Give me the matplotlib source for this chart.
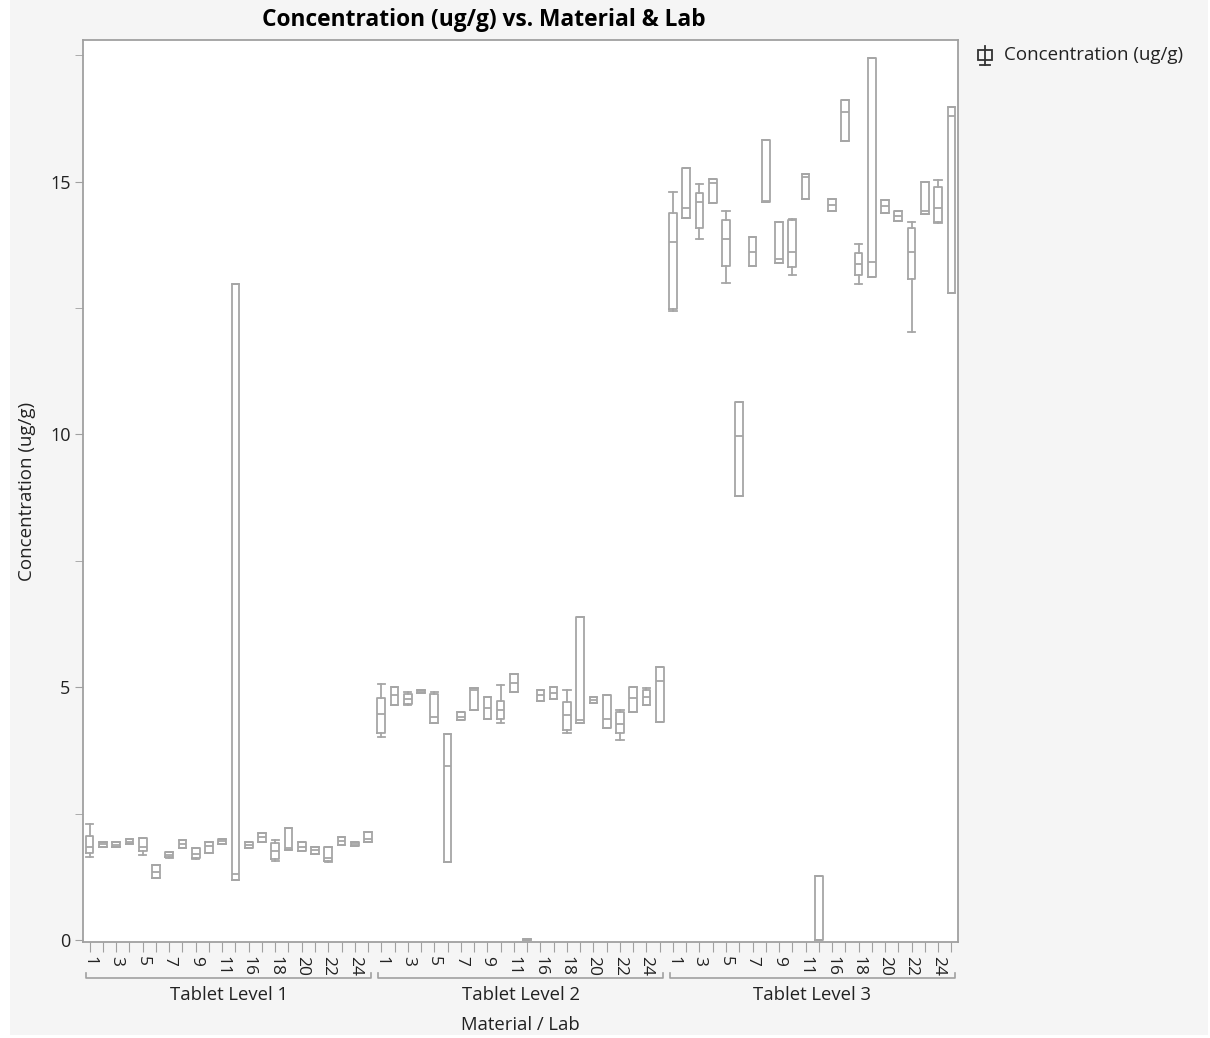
import numpy as np
import matplotlib.pyplot as plt
from matplotlib.patches import Rectangle
from matplotlib.lines import Line2D

# Labs in each material group (the one between 11 and 16 is unlabeled on the axis)
labs = [1, 2, 3, 4, 5, 6, 7, 8, 9, 10, 11, 12, 16, 17, 18, 19, 20, 21, 22, 23, 24, 25]
groups = ["Tablet Level 1", "Tablet Level 2", "Tablet Level 3"]

# Box statistics, one value per lab
lvl1_whislo = [1.65, 1.84, 1.83, 1.90, 1.69, 1.23, 1.63, 1.81, 1.61, 1.73, 1.89, 1.19,
               1.81, 1.94, 1.57, 1.78, 1.75, 1.71, 1.55, 1.88, 1.86, 1.93]
lvl1_q1 = [1.72, 1.84, 1.84, 1.90, 1.75, 1.23, 1.64, 1.81, 1.62, 1.73, 1.89, 1.19,
           1.81, 1.94, 1.60, 1.78, 1.75, 1.71, 1.57, 1.88, 1.86, 1.93]
lvl1_med = [1.83, 1.89, 1.88, 1.93, 1.84, 1.35, 1.68, 1.89, 1.70, 1.85, 1.95, 1.31,
            1.87, 2.03, 1.75, 1.81, 1.84, 1.78, 1.62, 1.95, 1.90, 2.00]
lvl1_q3 = [2.06, 1.94, 1.93, 2.00, 2.01, 1.48, 1.74, 1.98, 1.82, 1.93, 2.00, 12.98,
           1.94, 2.11, 1.91, 2.22, 1.93, 1.84, 1.84, 2.04, 1.94, 2.14]
lvl1_whishi = [2.29, 1.94, 1.93, 2.00, 2.01, 1.48, 1.74, 1.98, 1.82, 1.93, 2.00, 12.98,
               1.94, 2.11, 1.98, 2.22, 1.93, 1.84, 1.84, 2.04, 1.94, 2.14]

lvl2_whislo = [4.01, 4.65, 4.64, 4.88, 4.30, 1.55, 4.35, 4.55, 4.38, 4.30, 4.90, 0.00,
               4.73, 4.76, 4.10, 4.30, 4.68, 4.20, 3.95, 4.51, 4.64, 4.32]
lvl2_q1 = [4.10, 4.65, 4.66, 4.88, 4.30, 1.55, 4.35, 4.55, 4.38, 4.38, 4.90, 0.00,
           4.73, 4.76, 4.15, 4.30, 4.68, 4.20, 4.10, 4.51, 4.65, 4.32]
lvl2_med = [4.47, 4.84, 4.76, 4.91, 4.41, 3.44, 4.42, 4.95, 4.58, 4.55, 5.09, 0.01,
            4.84, 4.88, 4.45, 4.36, 4.75, 4.38, 4.28, 4.78, 4.80, 5.13]
lvl2_q3 = [4.78, 5.00, 4.86, 4.94, 4.86, 4.07, 4.50, 4.98, 4.80, 4.72, 5.27, 0.02,
           4.94, 5.00, 4.71, 6.38, 4.81, 4.84, 4.50, 5.00, 4.94, 5.39]
lvl2_whishi = [5.07, 5.00, 4.91, 4.94, 4.91, 4.07, 4.50, 4.98, 4.80, 5.04, 5.27, 0.02,
               4.94, 5.00, 4.94, 6.38, 4.81, 4.84, 4.55, 5.00, 4.99, 5.39]

lvl3_whislo = [12.44, 14.28, 13.87, 14.57, 13.00, 8.78, 13.34, 14.59, 13.39, 13.16, 14.66, 0.00,
               14.41, 15.81, 12.98, 13.11, 14.38, 14.22, 12.02, 14.35, 14.18, 12.79]
lvl3_q1 = [12.48, 14.28, 14.08, 14.57, 13.34, 8.78, 13.34, 14.59, 13.39, 13.32, 14.66, 0.00,
           14.41, 15.81, 13.16, 13.11, 14.38, 14.22, 13.07, 14.35, 14.20, 12.79]
lvl3_med = [13.80, 14.48, 14.59, 14.98, 13.87, 9.96, 13.60, 14.62, 13.47, 13.60, 15.10, 0.00,
            14.54, 16.37, 13.36, 13.40, 14.51, 14.31, 13.60, 14.41, 14.48, 16.30]
lvl3_q3 = [14.38, 15.27, 14.77, 15.05, 14.24, 10.65, 13.90, 15.83, 14.20, 14.24, 15.15, 1.26,
           14.66, 16.62, 13.59, 17.45, 14.64, 14.41, 14.08, 14.99, 14.90, 16.48]
lvl3_whishi = [14.79, 15.27, 14.95, 15.05, 14.41, 10.65, 13.90, 15.83, 14.20, 14.25, 15.15, 1.26,
               14.66, 16.62, 13.77, 17.45, 14.64, 14.41, 14.20, 14.99, 15.04, 16.48]

series = [
    (lvl1_whislo, lvl1_q1, lvl1_med, lvl1_q3, lvl1_whishi),
    (lvl2_whislo, lvl2_q1, lvl2_med, lvl2_q3, lvl2_whishi),
    (lvl3_whislo, lvl3_q1, lvl3_med, lvl3_q3, lvl3_whishi),
]

plt.rcParams['font.family'] = ['Open Sans', 'DejaVu Sans']

W, H = 1210, 1038
fig = plt.figure(figsize=(W / 100, H / 100), dpi=100, facecolor="white")
# light gray panel behind everything
fig.add_artist(Rectangle((10 / W, 3 / H), 1198 / W, 1 - 3 / H, transform=fig.transFigure,
                         facecolor="#f5f5f5", edgecolor="none", zorder=-10))

ax = fig.add_axes([83 / W, 1 - 942 / H, 875 / W, 902 / H])
ax.set_facecolor("white")

box_color = "#a6a6a6"
stats = []
for lo, q1, med, q3, hi in series:
    for k in range(len(labs)):
        stats.append(dict(whislo=lo[k], q1=q1[k], med=med[k], q3=q3[k], whishi=hi[k], fliers=[]))

n = len(labs)
pos = np.arange(len(stats))
lp = dict(color=box_color, linewidth=1.3)
ax.bxp(stats, positions=pos, widths=0.58, capwidths=0.55, showfliers=False,
       boxprops=lp, whiskerprops=lp, capprops=lp, medianprops=lp, manage_ticks=False)

ax.set_xlim(-0.5, len(stats) - 0.5)
ax.set_ylim(-0.04, 17.8)

# y axis
ax.set_yticks([0, 5, 10, 15])
ax.set_yticks([2.5, 7.5, 12.5, 17.5], minor=True)
ax.tick_params(axis="y", which="both", length=6, color="#a0a0a0", labelsize=13,
               labelcolor="#222222", pad=3)
ax.set_ylabel("Concentration (ug/g)", fontsize=13.5, color="#222222", labelpad=10)

# x axis: every lab gets a tick, every other one a label
xt_labels = []
for g in groups:
    for k, lab in enumerate(labs):
        xt_labels.append(str(lab) if k % 2 == 0 else "")
ax.set_xticks(pos)
ax.set_xticklabels(xt_labels, rotation=270, fontsize=12.5, color="#222222")
ax.tick_params(axis="x", length=7, color="#a0a0a0", pad=3)

for sp in ax.spines.values():
    sp.set_color("#a0a0a0")
    sp.set_linewidth(1.3)

# group brackets and names under the tick labels
trans = ax.get_xaxis_transform()
for gi, g in enumerate(groups):
    x0 = gi * n - 0.25
    x1 = gi * n + n - 1 + 0.25
    ax.plot([x0, x0, x1, x1], [-0.034, -0.040, -0.040, -0.034], transform=trans,
            color="#a0a0a0", linewidth=1.2, clip_on=False)
    ax.text((x0 + x1) / 2, -0.059, g, transform=trans, ha="center", va="center",
            fontsize=13.3, color="#222222")
ax.text((len(stats) - 1) / 2, -0.092, "Material / Lab", transform=trans,
        ha="center", va="center", fontsize=13.3, color="#222222")

fig.text(484 / W, 1 - 20 / H, "Concentration (ug/g) vs. Material & Lab",
         ha="center", va="center", fontsize=16.4, fontweight="bold", color="black")

# legend: small box-plot glyph + text
gx, gy = 985 / W, 1 - 55 / H
gw, gh = 7 / W, 5 / H
fig.add_artist(Rectangle((gx - gw, gy - gh), 2 * gw, 2 * gh, transform=fig.transFigure,
                         facecolor="none", edgecolor="#333333", linewidth=1.3))
fig.add_artist(Line2D([gx, gx], [gy - 10 / H, gy + 9 / H], transform=fig.transFigure,
                      color="#333333", linewidth=1.3))
fig.add_artist(Line2D([gx - 5 / W, gx + 5 / W], [gy - 10 / H, gy - 10 / H],
                      transform=fig.transFigure, color="#333333", linewidth=1.3))
fig.text(1004 / W, gy, "Concentration (ug/g)", ha="left", va="center", fontsize=13.5,
         color="#222222")

fig.savefig("out.png", dpi=100, facecolor=fig.get_facecolor())
